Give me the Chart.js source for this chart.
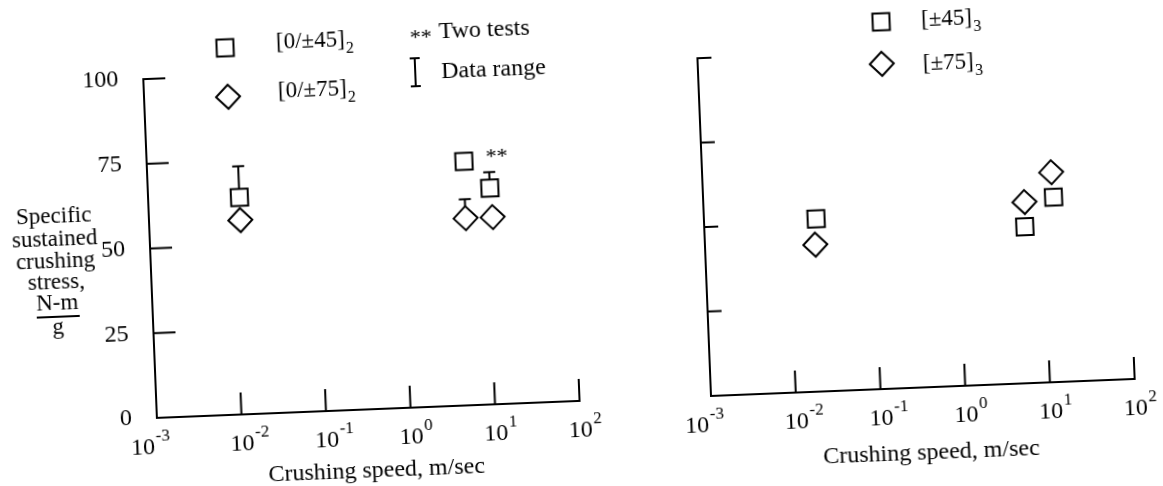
<!DOCTYPE html>
<html>
<head>
<meta charset="utf-8">
<script src="https://cdn.jsdelivr.net/npm/chart.js@4"></script>
<style>
  body { margin: 0; background: #fff; width: 1163px; height: 486px; overflow: hidden; position: relative; }
  canvas { position: absolute; top: 0; transform: rotate(-2.3deg); }
  #left { left: 0; }
  #right { left: 600px; }
</style>
</head>
<body>
<canvas id="left" width="600" height="486"></canvas>
<canvas id="right" width="563" height="486"></canvas>
<script>
// axis ticks
const xExponents = [-3, -2, -1, 0, 1, 2];
const yTicks = [0, 25, 50, 75, 100];

// left panel: [0/±45]2 squares and [0/±75]2 diamonds
const leftSquareSpeed = [0.012, 5.6, 11];
const leftSquareStress = [64, 72, 63.8];
const leftSquareRangeTop = [73.2, null, 68.5];
const leftDiamondSpeed = [0.012, 5.5, 11.5];
const leftDiamondStress = [57.3, 55.2, 55.2];
const leftDiamondRangeTop = [null, 60.8, null];

// right panel: [±45]3 squares and [±75]3 diamonds
const rightSquareSpeed = [0.021, 6.0, 13.5];
const rightSquareStress = [51.1, 46.3, 54.7];
const rightDiamondSpeed = [0.02, 6.1, 13];
const rightDiamondStress = [43.5, 53.6, 62.1];

const FONT = "'Liberation Serif', 'Times New Roman', serif";

function punto(ctx, style, x, y) {
  ctx.save();
  ctx.strokeStyle = "#000";
  ctx.fillStyle = "#fff";
  ctx.lineWidth = 2;
  Chart.helpers.drawPoint(ctx, { pointStyle: style, radius: 12, rotation: 0, borderWidth: 2 }, x, y);
  ctx.restore();
}

function texto(ctx, s, x, y, size, align) {
  ctx.font = size + "px " + FONT;
  ctx.textAlign = align || "left";
  ctx.textBaseline = "middle";
  ctx.fillText(s, x, y);
  return ctx.measureText(s).width;
}

function conSub(ctx, s, sub, x, y) {
  const w = texto(ctx, s, x, y, 23);
  texto(ctx, sub, x + w + 1, y + 9, 16);
}

function linea(ctx, x1, y1, x2, y2) {
  ctx.beginPath();
  ctx.moveTo(x1, y1);
  ctx.lineTo(x2, y2);
  ctx.stroke();
}

function ejes(opts) {
  return {
    id: "ejes",
    beforeDatasetsDraw(chart) {
      const { ctx, scales: { x, y } } = chart;
      ctx.save();
      ctx.strokeStyle = "#000";
      ctx.lineWidth = 2;
      chart.data.datasets.forEach((ds) => {
        (ds.rangeTop || []).forEach((top, i) => {
          if (top == null) return;
          const px = x.getPixelForValue(ds.data[i].x);
          const py = y.getPixelForValue(ds.data[i].y);
          const pt = y.getPixelForValue(top);
          linea(ctx, px, py, px, pt);
          linea(ctx, px - 6, pt, px + 6, pt);
        });
      });
      ctx.restore();
    },
    afterDraw(chart) {
      const { ctx, chartArea: a, scales: { x, y } } = chart;
      ctx.save();
      ctx.strokeStyle = "#000";
      ctx.fillStyle = "#000";
      ctx.lineWidth = 2;
      // inward ticks
      xExponents.slice(1).forEach((e) => {
        const px = x.getPixelForValue(Math.pow(10, e));
        linea(ctx, px, a.bottom, px, a.bottom - 22);
      });
      yTicks.slice(1).forEach((v) => {
        const py = y.getPixelForValue(v);
        linea(ctx, a.left, py, a.left + opts.yTickLen, py);
      });
      // x tick labels 10^n
      xExponents.forEach((e, i) => {
        let px = x.getPixelForValue(Math.pow(10, e));
        if (i === 0) px -= 15;
        const w = texto(ctx, "10", px, a.bottom + 30, 24, "center");
        texto(ctx, String(e), px + w / 2 + 1, a.bottom + 19, 17, "left");
      });
      texto(ctx, "Crushing speed, m/sec", (a.left + a.right) / 2 + 6, a.bottom + opts.titleGap, 24, "center");
      if (opts.yLabels) {
        yTicks.forEach((v) => {
          texto(ctx, String(v), a.left - 25, y.getPixelForValue(v), 24, "right");
        });
      }
      if (opts.extra) opts.extra(ctx, chart);
      ctx.restore();
    },
  };
}

function crearGrafica(id, sets, pad, opts) {
  return new Chart(document.getElementById(id), {
    type: "scatter",
    data: {
      datasets: sets.map((s) => ({
        label: s.label,
        data: s.x.map((v, i) => ({ x: v, y: s.y[i] })),
        rangeTop: s.rangeTop,
        pointStyle: s.style,
        pointRadius: 12,
        pointHoverRadius: 12,
        pointBorderWidth: 2,
        borderColor: "#000",
        backgroundColor: "#fff",
        clip: false,
      })),
    },
    options: {
      responsive: false,
      animation: false,
      events: [],
      layout: { padding: pad },
      plugins: { legend: { display: false }, tooltip: { enabled: false } },
      scales: {
        x: {
          type: "logarithmic", min: 0.001, max: 100,
          grid: { display: false, drawTicks: false },
          border: { display: true, color: "#000", width: 2 },
          ticks: { display: false },
        },
        y: {
          min: 0, max: 100,
          grid: { display: false, drawTicks: false },
          border: { display: true, color: "#000", width: 2 },
          ticks: { display: false },
        },
      },
    },
    plugins: [ejes(opts)],
  });
}

crearGrafica(
  "left",
  [
    { label: "[0/±45]2", x: leftSquareSpeed, y: leftSquareStress, rangeTop: leftSquareRangeTop, style: "rect" },
    { label: "[0/±75]2", x: leftDiamondSpeed, y: leftDiamondStress, rangeTop: leftDiamondRangeTop, style: "rectRot" },
  ],
  { left: 150, right: 27, top: 73, bottom: 74 },
  {
    yTickLen: 22,
    yLabels: true,
    titleGap: 62,
    extra(ctx, chart) {
      const { x, y } = chart.scales;
      // y title
      ["Specific", "sustained", "crushing", "stress,", "N-m"].forEach((s, i) => {
        texto(ctx, s, 55, [207, 230, 252, 273, 294][i], 23, "center");
      });
      linea(ctx, 34, 307, 77, 307);
      texto(ctx, "g", 55, 318, 23, "center");
      // legend
      punto(ctx, "rect", 233, 45);
      punto(ctx, "rectRot", 234, 94);
      conSub(ctx, "[0/±45]", "2", 284, 42);
      conSub(ctx, "[0/±75]", "2", 284, 91);
      ctx.font = "22px " + FONT;
      ctx.textAlign = "left";
      ctx.textBaseline = "alphabetic";
      ctx.fillText("**", 418, 49);
      texto(ctx, "Two tests", 447, 38, 24);
      linea(ctx, 422, 63, 422, 91);
      linea(ctx, 417, 63, 427, 63);
      linea(ctx, 417, 91, 427, 91);
      texto(ctx, "Data range", 448, 78, 24);
      // two tests mark next to the second square
      const px = x.getPixelForValue(leftSquareSpeed[1]);
      const py = y.getPixelForValue(leftSquareStress[1]);
      ctx.font = "22px " + FONT;
      ctx.textAlign = "center";
      ctx.textBaseline = "alphabetic";
      ctx.fillText("**", px + 33, py + 3);
    },
  }
);

crearGrafica(
  "right",
  [
    { label: "[±45]3", x: rightSquareSpeed, y: rightSquareStress, style: "rect" },
    { label: "[±75]3", x: rightDiamondSpeed, y: rightDiamondStress, style: "rectRot" },
  ],
  { left: 105, right: 34, top: 51, bottom: 97 },
  {
    yTickLen: 14,
    yLabels: false,
    titleGap: 66,
    extra(ctx) {
      punto(ctx, "rect", 290, 22);
      punto(ctx, "rectRot", 289, 64);
      conSub(ctx, "[±45]", "3", 330, 22);
      conSub(ctx, "[±75]", "3", 330, 66);
    },
  }
);
</script>
</body>
</html>
